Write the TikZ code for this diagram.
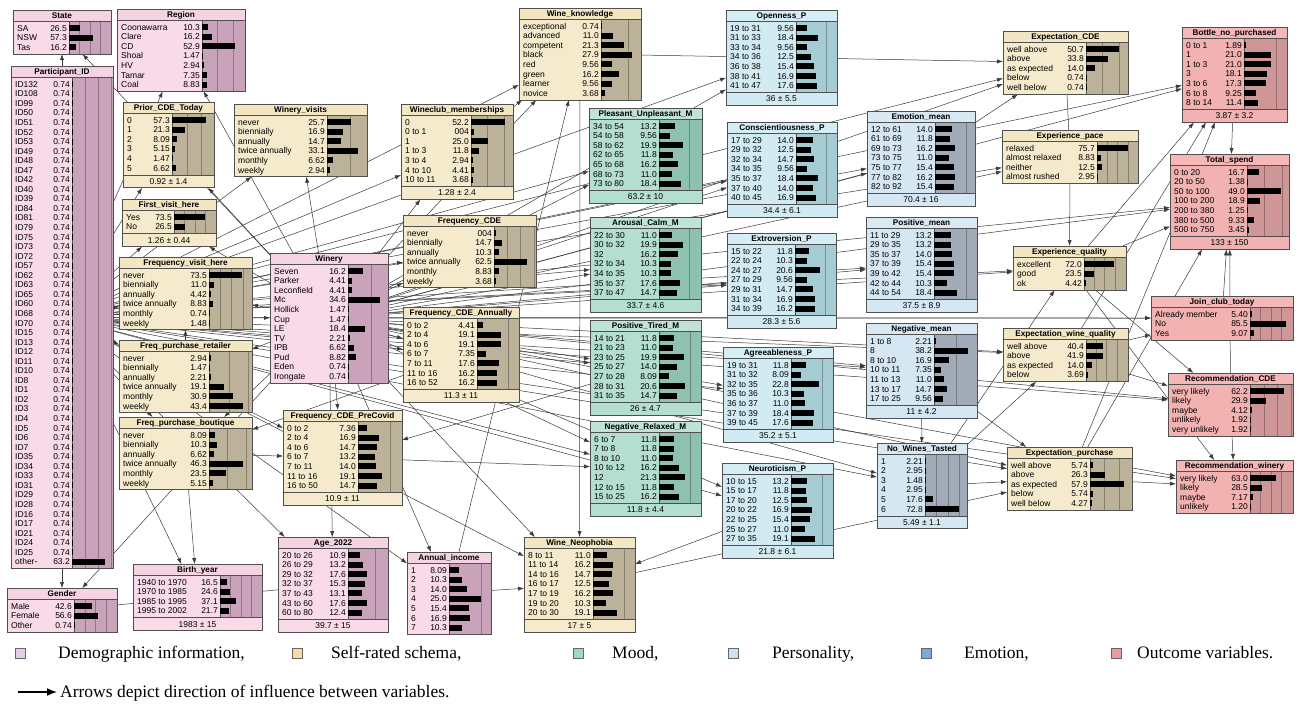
\documentclass[tikz,border=0pt]{standalone}
\usepackage{fontspec}
\setmainfont{Liberation Serif}
\newfontfamily\arial{Liberation Sans}
\usetikzlibrary{arrows.meta}
\pgfdeclarelayer{bg}
\pgfsetlayers{bg,main}

\definecolor{dmT}{HTML}{F5D3E3}
\definecolor{dmB}{HTML}{F8DAE8}
\definecolor{dmR}{HTML}{C9A3BA}
\definecolor{srT}{HTML}{F3E6C3}
\definecolor{srB}{HTML}{F5EACB}
\definecolor{srR}{HTML}{BCB299}
\definecolor{mdT}{HTML}{BFE4D6}
\definecolor{mdB}{HTML}{B4DECF}
\definecolor{mdR}{HTML}{8FC1AF}
\definecolor{psT}{HTML}{D5EDF5}
\definecolor{psB}{HTML}{D2EBF3}
\definecolor{psR}{HTML}{A5CCD3}
\definecolor{emT}{HTML}{D9E9F4}
\definecolor{emB}{HTML}{D5E7F3}
\definecolor{emR}{HTML}{A1AAB7}
\definecolor{ocT}{HTML}{F5B7B7}
\definecolor{ocB}{HTML}{F3B2B2}
\definecolor{ocR}{HTML}{CE9696}
\definecolor{bnline}{HTML}{505050}
\definecolor{edgec}{HTML}{3A3A3A}
\definecolor{lgdm}{HTML}{E4CDE8}
\definecolor{lgsr}{HTML}{F2DC9E}
\definecolor{lgmd}{HTML}{9FD7C2}
\definecolor{lgps}{HTML}{C5E6F1}
\definecolor{lgem}{HTML}{7CA7D8}
\definecolor{lgoc}{HTML}{EF9A9A}

\newcommand\rowfont{\arial\fontsize{8.5}{9}\selectfont}
\def\titleh{11.5}\def\rowh{9.55}\def\padv{2}\def\footh{13}
\gdef\bnfoot{}
\newcommand\FT[1]{\gdef\bnfoot{#1}}

% name, x, y, width, bar-area x, px per percent, category, title, rows
\newcommand\BN[9]{%
  \foreach \lab/\val [count=\n] in {#9} {\xdef\nrows{\n}}%
  \pgfmathsetmacro\bodyh{\nrows*\rowh+2*\padv}%
  \ifx\bnfoot\empty\def\fh{0}\else\let\fh\footh\fi
  \pgfmathsetmacro\toth{\titleh+\bodyh+\fh}%
  \pgfmathsetmacro\bodyb{#3+\titleh+\bodyh}%
  \node[fill=#7B, inner sep=0pt, outer sep=0pt, minimum width=#4pt, minimum height=\toth pt, anchor=north west] (#1) at (#2,#3) {};
  \fill[#7T] (#2,#3) rectangle ({#2+#4},{#3+\titleh});
  \fill[#7R] (#5,{#3+\titleh}) rectangle ({#2+#4},\bodyb);
  \pgfmathsetmacro\xmax{#2+#4-1.5}%
  \foreach \k in {1,...,12}{%
    \pgfmathsetmacro\gx{#5+25*\k*#6}%
    \ifdim\gx pt<\xmax pt \draw[#7R!72!black, line width=0.4pt] (\gx,{#3+\titleh}) -- (\gx,\bodyb);\fi
  }%
  \draw[bnline, line width=0.6pt] (#2,{#3+\titleh}) -- ({#2+#4},{#3+\titleh});
  \draw[bnline, line width=0.6pt] (#5,{#3+\titleh}) -- (#5,\bodyb);
  \node[font=\arial\bfseries\fontsize{8.2}{9}\selectfont, inner sep=0pt, anchor=base] at ({#2+#4/2},{#3+\titleh/2+3}) {#8};
  \foreach \lab/\val [count=\n] in {#9}{%
    \pgfmathsetmacro\ry{#3+\titleh+\padv+(\n-0.5)*\rowh}%
    \node[anchor=base west, font=\rowfont, inner sep=0pt] at ({#2+4},{\ry+3}) {\lab};
    \node[anchor=base east, font=\rowfont, inner sep=0pt] at ({#5-2},{\ry+3}) {\val};
    \pgfmathsetmacro\bl{\val*#6}%
    \fill[black] (#5,{\ry-3}) rectangle ({#5+\bl},{\ry+3});
  }%
  \ifx\bnfoot\empty\else
    \draw[bnline, line width=0.6pt] (#2,\bodyb) -- ({#2+#4},\bodyb);
    \node[font=\rowfont, anchor=base, inner sep=0pt] at ({#2+#4/2},{\bodyb+\footh/2+3}) {\bnfoot};
  \fi
  \draw[bnline, line width=0.7pt] (#2,#3) rectangle ({#2+#4},{#3+\toth});
  \gdef\bnfoot{}%
}

\tikzset{
  lnk/.style={draw=edgec, line width=0.5pt, -{Latex[length=6pt,width=4.2pt]}},
  lnkplain/.style={draw=edgec, line width=0.5pt},
  lgsq/.style={draw=black!60, line width=0.5pt, minimum size=10pt, inner sep=0pt},
  lgtext/.style={anchor=base west, inner sep=0pt, font=\fontsize{17.5}{20}\selectfont}
}

\begin{document}
\begin{tikzpicture}[x=1pt,y=-1pt]
\useasboundingbox (0,0) rectangle (1301,705);

\BN{state}{13}{10}{98}{69}{0.42}{dm}{State}{SA/26.5,NSW/57.3,Tas/16.2}
\BN{region}{117}{9}{128}{202}{0.62}{dm}{Region}{Coonawarra/10.3,Clare/16.2,CD/52.9,Shoal/1.47,HV/2.94,Tamar/7.35,Coal/8.83}
\BN{pid}{11}{66}{102}{72}{0.52}{dm}{Participant\_ID}{ID132/0.74,ID108/0.74,ID99/0.74,ID50/0.74,ID51/0.74,ID52/0.74,ID53/0.74,ID49/0.74,ID48/0.74,ID47/0.74,ID42/0.74,ID40/0.74,ID39/0.74,ID84/0.74,ID81/0.74,ID79/0.74,ID75/0.74,ID73/0.74,ID72/0.74,ID57/0.74,ID62/0.74,ID63/0.74,ID65/0.74,ID60/0.74,ID68/0.74,ID70/0.74,ID15/0.74,ID13/0.74,ID12/0.74,ID11/0.74,ID10/0.74,ID8/0.74,ID1/0.74,ID2/0.74,ID3/0.74,ID4/0.74,ID5/0.74,ID6/0.74,ID7/0.74,ID35/0.74,ID34/0.74,ID33/0.74,ID31/0.74,ID29/0.74,ID28/0.74,ID16/0.74,ID17/0.74,ID21/0.74,ID24/0.74,ID25/0.74,other-/63.2}
\BN{gender}{7}{588}{110}{74}{0.43}{dm}{Gender}{Male/42.6,Female/56.6,Other/0.74}
\FT{1983 ± 15}\BN{birth}{133}{564}{129}{220}{0.42}{dm}{Birth\_year}{1940 to 1970/16.5,1970 to 1985/24.6,1985 to 1995/37.1,1995 to 2002/21.7}
\FT{39.7 ± 15}\BN{age}{278}{537}{110}{348}{1.1}{dm}{Age\_2022}{20 to 26/10.9,26 to 29/13.2,29 to 32/17.6,32 to 37/15.3,37 to 43/13.1,43 to 60/17.6,60 to 80/12.4}
\BN{income}{407}{552}{84}{449}{1.27}{dm}{Annual\_income}{1/8.09,2/10.3,3/14.0,4/25.0,5/15.4,6/16.9,7/10.3}
\FT{17 ± 5}\BN{neo}{524}{537}{111}{593}{1.26}{sr}{Wine\_Neophobia}{8 to 11/11.0,11 to 14/16.2,14 to 16/14.7,16 to 17/12.5,17 to 19/16.2,19 to 20/10.3,20 to 30/19.1}
\BN{bout}{119}{417}{133}{209}{0.74}{sr}{Freq\_purchase\_boutique}{never/8.09,biennially/10.3,annually/6.62,twice annually/46.3,monthly/23.5,weekly/5.15}
\BN{retail}{119}{340}{133}{209}{0.79}{sr}{Freq\_purchase\_retailer}{never/2.94,biennially/1.47,annually/2.21,twice annually/19.1,monthly/30.9,weekly/43.4}
\BN{fvh}{119}{257}{133}{209}{0.45}{sr}{Frequency\_visit\_here}{never/73.5,biennially/11.0,annually/4.42,twice annually/8.83,monthly/0.74,weekly/1.48}
\FT{1.26 ± 0.44}\BN{fvisit}{122}{199}{94}{174}{0.42}{sr}{First\_visit\_here}{Yes/73.5,No/26.5}
\FT{0.92 ± 1.4}\BN{prior}{123}{102}{91}{172}{0.59}{sr}{Prior\_CDE\_Today}{0/57.3,1/21.3,2/8.09,3/5.15,4/1.47,5/6.62}
\BN{wvisits}{234}{104}{133}{327}{0.94}{sr}{Winery\_visits}{never/25.7,biennially/16.9,annually/14.7,twice annually/33.1,monthly/6.62,weekly/2.94}
\FT{1.28 ± 2.4}\BN{wclub}{401}{104}{112}{471}{0.66}{sr}{Wineclub\_memberships}{0/52.2,0 to 1/004,1/25.0,1 to 3/11.8,3 to 4/2.94,4 to 10/4.41,10 to 11/3.68}
\BN{wknow}{519}{8}{122}{601}{1.1}{sr}{Wine\_knowledge}{exceptional/0.74,advanced/11.0,competent/21.3,black/27.9,red/9.56,green/16.2,learner/9.56,novice/3.68}
\FT{36 ± 5.5}\BN{open}{726}{10}{111}{796}{1.2}{ps}{Openness\_P}{19 to 31/9.56,31 to 33/18.4,33 to 34/9.56,34 to 36/12.5,36 to 38/15.4,38 to 41/16.9,41 to 47/17.6}
\FT{63.2 ± 10}\BN{pleas}{589}{108}{113}{659}{1.2}{md}{Pleasant\_Unpleasant\_M}{34 to 54/13.2,54 to 58/9.56,58 to 62/19.9,62 to 65/11.8,65 to 68/16.2,68 to 73/11.0,73 to 80/18.4}
\FT{34.4 ± 6.1}\BN{consc}{727}{122}{110}{796}{1.2}{ps}{Conscientiousness\_P}{17 to 29/14.0,29 to 32/12.5,32 to 34/14.7,34 to 35/9.56,35 to 37/18.4,37 to 40/14.0,40 to 45/16.9}
\FT{70.4 ± 16}\BN{emo}{867}{111}{108}{935}{1.23}{em}{Emotion\_mean}{12 to 61/14.0,61 to 69/11.8,69 to 73/16.2,73 to 75/11.0,75 to 77/15.4,77 to 82/16.2,82 to 92/15.4}
\BN{expcde}{1003}{31}{125}{1086}{0.66}{sr}{Expectation\_CDE}{well above/50.7,above/33.8,as expected/14.0,below/0.74,well below/0.74}
\BN{pace}{1002}{130}{136}{1097}{0.41}{sr}{Experience\_pace}{relaxed/75.7,almost relaxed/8.83,neither/12.5,almost rushed/2.95}
\FT{3.87 ± 3.2}\BN{bottle}{1182}{27}{105}{1244}{1.27}{oc}{Bottle\_no\_purchased}{0 to 1/1.89,1/21.0,1 to 3/21.0,3/18.1,3 to 6/17.3,6 to 8/9.25,8 to 14/11.4}
\FT{133 ± 150}\BN{spend}{1170}{154}{119}{1247}{0.7}{oc}{Total\_spend}{0 to 20/16.7,20 to 50/1.38,50 to 100/49.0,100 to 200/18.9,200 to 380/1.25,380 to 500/9.33,500 to 750/3.45}
\BN{equal}{1013}{246}{113}{1084}{0.41}{sr}{Experience\_quality}{excellent/72.0,good/23.5,ok/4.42}
\BN{join}{1151}{296}{142}{1250}{0.42}{oc}{Join\_club\_today}{Already member/5.40,No/85.5,Yes/9.07}
\BN{ewq}{1003}{328}{125}{1086}{0.41}{sr}{Expectation\_wine\_quality}{well above/40.4,above/41.9,as expected/14.0,below/3.69}
\BN{reccde}{1168}{373}{125}{1250}{0.55}{oc}{Recommendation\_CDE}{very likely/62.2,likely/29.9,maybe/4.12,unlikely/1.92,very unlikely/1.92}
\BN{recw}{1176}{460}{117}{1250}{0.42}{oc}{Recommendation\_winery}{very likely/63.0,likely/28.5,maybe/7.17,unlikely/1.20}
\BN{epur}{1007}{447}{125}{1090}{0.58}{sr}{Expectation\_purchase}{well above/5.74,above/26.3,as expected/57.9,below/5.74,well below/4.27}
\FT{5.49 ± 1.1}\BN{nwt}{877}{443}{90}{925}{0.46}{em}{No\_Wines\_Tasted}{1/2.21,2/2.95,3/1.48,4/2.95,5/17.6,6/72.8}
\FT{21.8 ± 6.1}\BN{neuro}{722}{463}{111}{791}{1.24}{ps}{Neuroticism\_P}{10 to 15/13.2,15 to 17/11.8,17 to 20/12.5,20 to 22/16.9,22 to 25/15.4,25 to 27/11.0,27 to 35/19.1}
\FT{35.2 ± 5.1}\BN{agree}{723}{347}{110}{791}{1.24}{ps}{Agreeableness\_P}{19 to 31/11.8,31 to 32/8.09,32 to 35/22.8,35 to 36/10.3,36 to 37/11.0,37 to 39/18.4,39 to 45/17.6}
\FT{11 ± 4.2}\BN{negm}{866}{323}{111}{934}{0.9}{em}{Negative\_mean}{1 to 8/2.21,8/38.2,8 to 10/16.9,10 to 11/7.35,11 to 13/11.0,13 to 17/14.7,17 to 25/9.56}
\FT{37.5 ± 8.9}\BN{posm}{866}{217}{111}{934}{1.27}{em}{Positive\_mean}{11 to 29/13.2,29 to 35/13.2,35 to 37/14.0,37 to 39/15.4,39 to 42/15.4,42 to 44/10.3,44 to 54/18.4}
\FT{28.3 ± 5.6}\BN{extro}{727}{233}{109}{795}{1.21}{ps}{Extroversion\_P}{15 to 22/11.8,22 to 24/10.3,24 to 27/20.6,27 to 29/9.56,29 to 31/14.7,31 to 34/16.9,34 to 39/16.2}
\FT{33.7 ± 4.6}\BN{arous}{590}{217}{111}{659}{1.2}{md}{Arousal\_Calm\_M}{22 to 30/11.0,30 to 32/19.9,32/16.2,32 to 34/10.3,34 to 35/10.3,35 to 37/17.6,37 to 47/14.7}
\FT{26 ± 4.7}\BN{postir}{590}{320}{111}{659}{1.25}{md}{Positive\_Tired\_M}{14 to 21/11.8,21 to 23/11.0,23 to 25/19.9,25 to 27/14.0,27 to 28/8.09,28 to 31/20.6,31 to 35/14.7}
\FT{11.8 ± 4.4}\BN{negrel}{590}{421}{111}{659}{1.24}{md}{Negative\_Relaxed\_M}{6 to 7/11.8,7 to 8/11.8,8 to 10/11.0,10 to 12/16.2,12/21.3,12 to 15/11.8,15 to 25/16.2}
\BN{winery}{270}{253}{118}{348}{0.92}{dm}{Winery}{Seven/16.2,Parker/4.41,Leconfield/4.41,Mc/34.6,Hollick/1.47,Cup/1.47,LE/18.4,TV/2.21,IPB/6.62,Pud/8.82,Eden/0.74,Irongate/0.74}
\BN{fcde}{403}{215}{133}{494}{0.53}{sr}{Frequency\_CDE}{never/004,biennially/14.7,annually/10.3,twice annually/62.5,monthly/8.83,weekly/3.68}
\FT{11.3 ± 11}\BN{fann}{403}{307}{116}{477}{1.26}{sr}{Frequency\_CDE\_Annually}{0 to 2/4.41,2 to 4/19.1,4 to 6/19.1,6 to 7/7.35,7 to 11/17.6,11 to 16/16.2,16 to 52/16.2}
\FT{10.9 ± 11}\BN{fpre}{283}{410}{119}{358}{1.27}{sr}{Frequency\_CDE\_PreCovid}{0 to 2/7.36,2 to 4/16.9,4 to 6/14.7,6 to 7/13.2,7 to 11/14.0,11 to 16/19.1,16 to 50/14.7}

\begin{pgfonlayer}{bg}
\fill[white] (0,0) rectangle (1301,705);
\foreach \t in {state,region,gender,birth,age,income,neo,bout,retail,fvh,fvisit,prior,wvisits,wclub,wknow,open,pleas,consc,emo,expcde,pace,bottle,spend,equal,join,ewq,reccde,recw,epur,nwt,neuro,agree,negm,posm,extro,arous,postir,negrel,winery,fcde,fann,fpre}
  \draw[lnk] (pid) -- (\t);
\foreach \t in {state,region,gender,age,income,neo,bout,retail,fvh,fvisit,prior,wvisits,wclub,wknow,open,pleas,consc,emo,expcde,pace,bottle,spend,equal,join,ewq,reccde,recw,epur,nwt,neuro,agree,negm,posm,extro,arous,postir,negrel,fcde,fann,fpre}
  \draw[lnk] (winery) -- (\t);
\foreach \s/\t in {retail/fvh,bout/birth,wknow/expcde,wknow/neo,wclub/wknow,income/wknow,income/neo,pace/equal,bottle/spend,join/spend,reccde/spend,reccde/recw,equal/recw,equal/reccde,equal/spend,nwt/equal,ewq/join,epur/recw,negm/epur,nwt/epur,negm/nwt,equal/bottle,ewq/bottle,epur/bottle,epur/spend,emo/expcde,fann/bout,bout/fpre,postir/fpre,fpre/negrel,neuro/neo,nwt/ewq,neo/epur,ewq/reccde}
  \draw[lnk] (\s) -- (\t);
\draw[lnkplain] (birth) -- (gender);
\draw[lnkplain] (birth) -- (age);
\draw[lnkplain] (expcde) -- (pace);
\end{pgfonlayer}

% legend
\node[lgsq, fill=lgdm] (sq1) at (20,653) {};
\node[lgtext] (lt1) at (58,658.5) {Demographic information,};
\node[lgsq, fill=lgsr] (sq2) at (297,653) {};
\node[lgtext] (lt2) at (331,658.5) {Self-rated schema,};
\node[lgsq, fill=lgmd] (sq3) at (578,653) {};
\node[lgtext] (lt3) at (612,658.5) {Mood,};
\node[lgsq, fill=lgps] (sq4) at (733,653) {};
\node[lgtext] (lt4) at (772,658.5) {Personality,};
\node[lgsq, fill=lgem] (sq5) at (926,653) {};
\node[lgtext] (lt5) at (964,658.5) {Emotion,};
\node[lgsq, fill=lgoc] (sq6) at (1116,653) {};
\node[lgtext] (lt6) at (1137,658.5) {Outcome variables.};
\coordinate (ar1) at (18,692);
\coordinate (ar2) at (57,692);
\draw[line width=1.5pt, -{Latex[length=10pt,width=8pt]}] (ar1) -- (ar2);
\node[lgtext] (lt7) at (60,697.5) {Arrows depict direction of influence between variables.};
\end{tikzpicture}
\end{document}
